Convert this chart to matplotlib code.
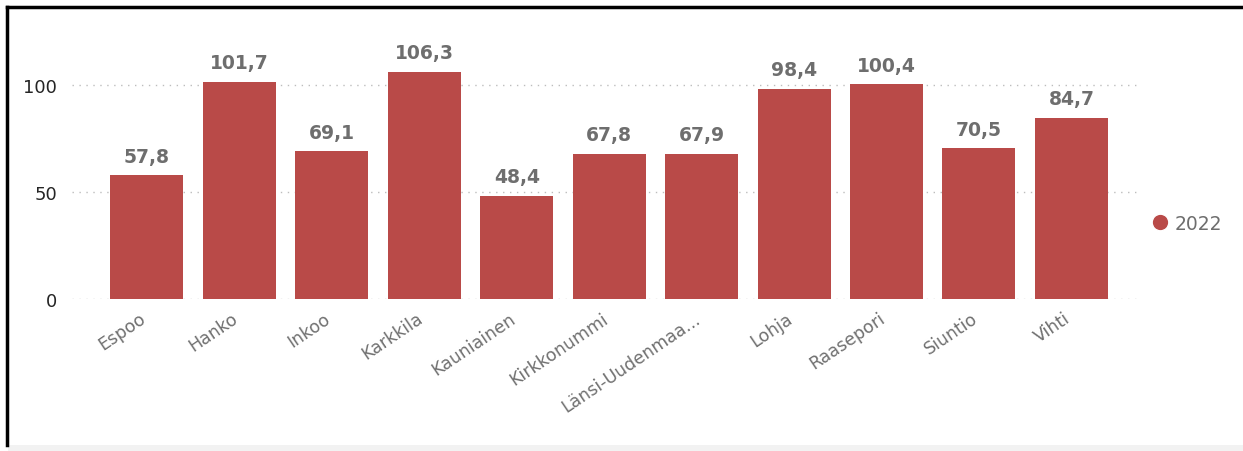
import matplotlib
matplotlib.use("Agg")
import matplotlib.pyplot as plt
import matplotlib.transforms as mtransforms
from matplotlib.lines import Line2D
from matplotlib.patches import Rectangle

municipalities = ["Espoo", "Hanko", "Inkoo", "Karkkila", "Kauniainen", "Kirkkonummi",
                  "Länsi-Uudenmaa...", "Lohja", "Raasepori", "Siuntio", "Vihti"]
values_2022 = [57.8, 101.7, 69.1, 106.3, 48.4, 67.8, 67.9, 98.4, 100.4, 70.5, 84.7]
yticks = [0, 50, 100]

bar_color = "#b94a48"

fig = plt.figure(figsize=(12.43, 4.52), dpi=100)
ax = fig.add_axes([0.058, 0.336, 0.859, 0.62])

x = range(len(municipalities))
bars = ax.bar(x, values_2022, width=0.79, color=bar_color, zorder=3)

# value labels, finnish decimal comma
for b, v in zip(bars, values_2022):
    ax.text(b.get_x() + b.get_width() / 2, v + 4.5, f"{v:.1f}".replace(".", ","),
            ha="center", va="bottom", fontsize=13.5, fontweight="bold", color="#6e6e6e")

ax.set_xlim(-0.81, 10.74)
ax.set_ylim(0, 131)
ax.set_yticks(yticks)
ax.set_yticklabels([str(t) for t in yticks], fontsize=13, color="#252525")
ax.yaxis.grid(True, linestyle=(0, (1, 4)), color="#bdbdbd", linewidth=1, zorder=0)
ax.set_xticks(list(x))
ax.set_xticklabels(municipalities, rotation=34, ha="right", rotation_mode="anchor",
                   fontsize=12.5, color="#707070")
ax.tick_params(axis="both", length=0)
ax.tick_params(axis="y", pad=11)
ax.tick_params(axis="x", pad=7)
# nudge the slanted labels a bit to the left
shift = mtransforms.ScaledTranslation(-8 / 100, 0, fig.dpi_scale_trans)
for lbl in ax.get_xticklabels():
    lbl.set_transform(lbl.get_transform() + shift)
for s in ax.spines.values():
    s.set_visible(False)

# legend
leg = ax.legend([Line2D([0], [0], marker="o", color="w", markerfacecolor=bar_color,
                        markersize=12)], ["2022"],
                loc="center left", bbox_to_anchor=(0.99, 0.27), frameon=False,
                handletextpad=0.0, handlelength=1.5, fontsize=13.5)
for t in leg.get_texts():
    t.set_color("#6e6e6e")

# frame around the visual
fig.add_artist(Line2D([7 / 1243, 7 / 1243], [1 - 8 / 452, 1 - 446 / 452],
                      color="black", linewidth=2.5))
fig.add_artist(Line2D([7 / 1243, 1.0], [1 - 8 / 452, 1 - 8 / 452],
                      color="black", linewidth=2.5))
fig.add_artist(Rectangle((8 / 1243, 0), 1, 6 / 452, transform=fig.transFigure,
                         color="#f2f2f2", linewidth=0))

fig.savefig("out.png", dpi=100)
